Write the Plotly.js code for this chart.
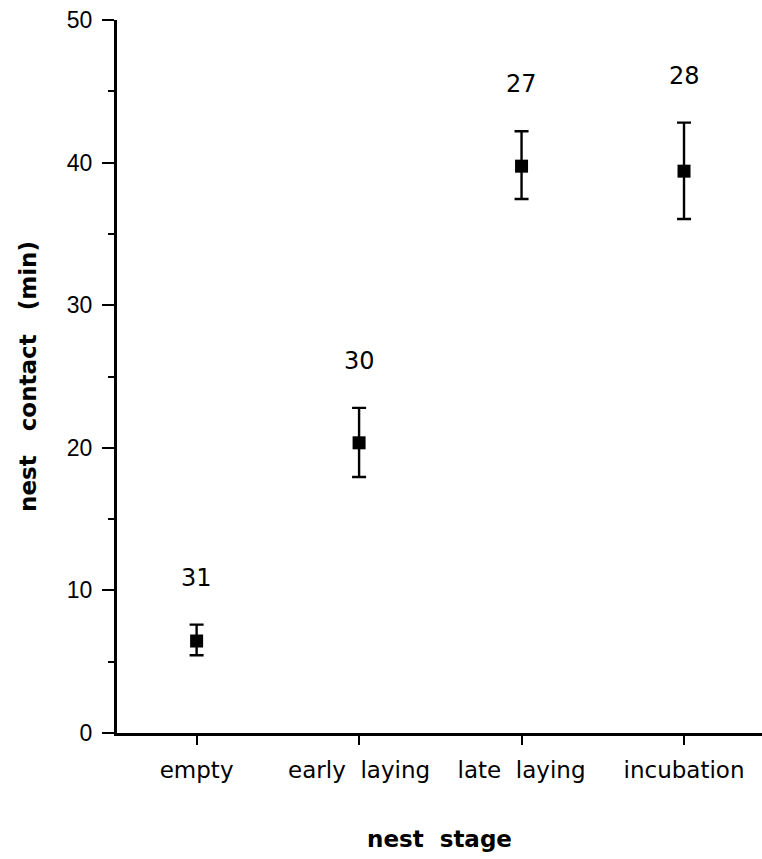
<!DOCTYPE html>
<html>
<head>
<meta charset="utf-8">
<script src="https://cdn.plot.ly/plotly-3.0.1.min.js"></script>
<style>html,body{margin:0;padding:0;background:#fff;}#chart{width:762px;height:859px;}</style>
</head>
<body>
<div id="chart"></div>
<script>
// Data
const stages = ["empty", "early  laying", "late  laying", "incubation"];
const meanContact = [6.45, 20.35, 39.75, 39.4];
const upperBound = [7.6, 22.8, 42.2, 42.8];
const lowerBound = [5.45, 17.95, 37.45, 36.05];
const sampleSizes = ["31", "30", "27", "28"];
const yTickVals = [0, 10, 20, 30, 40, 50];
const yTickText = ["0", "10", "20", "30", "40", "50"];
const yMinorVals = [5, 15, 25, 35, 45];

const errPlus = meanContact.map((m, i) => upperBound[i] - m);
const errMinus = meanContact.map((m, i) => m - lowerBound[i]);

const FONT = "DejaVu Sans, Arial, sans-serif";
const HFONT = "Liberation Sans, Arial, Helvetica, sans-serif";

const trace = {
  type: "scatter",
  mode: "markers",
  x: stages,
  y: meanContact,
  marker: {symbol: "square", size: 13, color: "#000"},
  error_y: {
    type: "data",
    symmetric: false,
    array: errPlus,
    arrayminus: errMinus,
    color: "#000",
    thickness: 2.4,
    width: 7
  },
  hoverinfo: "skip",
  showlegend: false
};

const annotations = stages.map((s, i) => ({
  x: s,
  y: upperBound[i],
  xref: "x",
  yref: "y",
  text: sampleSizes[i],
  showarrow: false,
  yanchor: "middle",
  yshift: 47,
  font: {family: FONT, size: 24, color: "#000"}
}));

const layout = {
  width: 762,
  height: 859,
  margin: {l: 117, r: 0, t: 20, b: 126},
  paper_bgcolor: "#fff",
  plot_bgcolor: "#fff",
  font: {family: FONT, size: 20, color: "#000"},
  xaxis: {
    type: "category",
    range: [-0.49, 3.48],
    showgrid: false,
    zeroline: false,
    showline: true,
    linecolor: "#000",
    linewidth: 3,
    ticks: "outside",
    ticklen: 9,
    tickwidth: 2,
    tickcolor: "#000",
    tickfont: {family: FONT, size: 23, color: "#000"},
    ticklabelstandoff: 5,
    fixedrange: true,
    title: {
      text: "<b>nest  stage</b>",
      font: {family: FONT, size: 23, color: "#000"},
      standoff: 50
    },
    automargin: false
  },
  yaxis: {
    range: [0, 50],
    tickmode: "array",
    tickvals: yTickVals,
    ticktext: yTickText,
    showgrid: false,
    zeroline: false,
    showline: true,
    linecolor: "#000",
    linewidth: 3,
    ticks: "outside",
    ticklen: 12,
    tickwidth: 2,
    tickcolor: "#000",
    minor: {tickvals: yMinorVals, ticks: "outside", ticklen: 6, tickwidth: 2, tickcolor: "#000", showgrid: false},
    tickfont: {family: HFONT, size: 23, color: "#000"},
    ticklabelstandoff: 5,
    fixedrange: true,
    title: {
      text: "<b>nest   contact   (min)</b>",
      font: {family: FONT, size: 23, color: "#000"},
      standoff: 24
    },
    automargin: false
  },
  annotations: annotations
};

Plotly.newPlot("chart", [trace], layout, {displayModeBar: false, staticPlot: true});
</script>
</body>
</html>
